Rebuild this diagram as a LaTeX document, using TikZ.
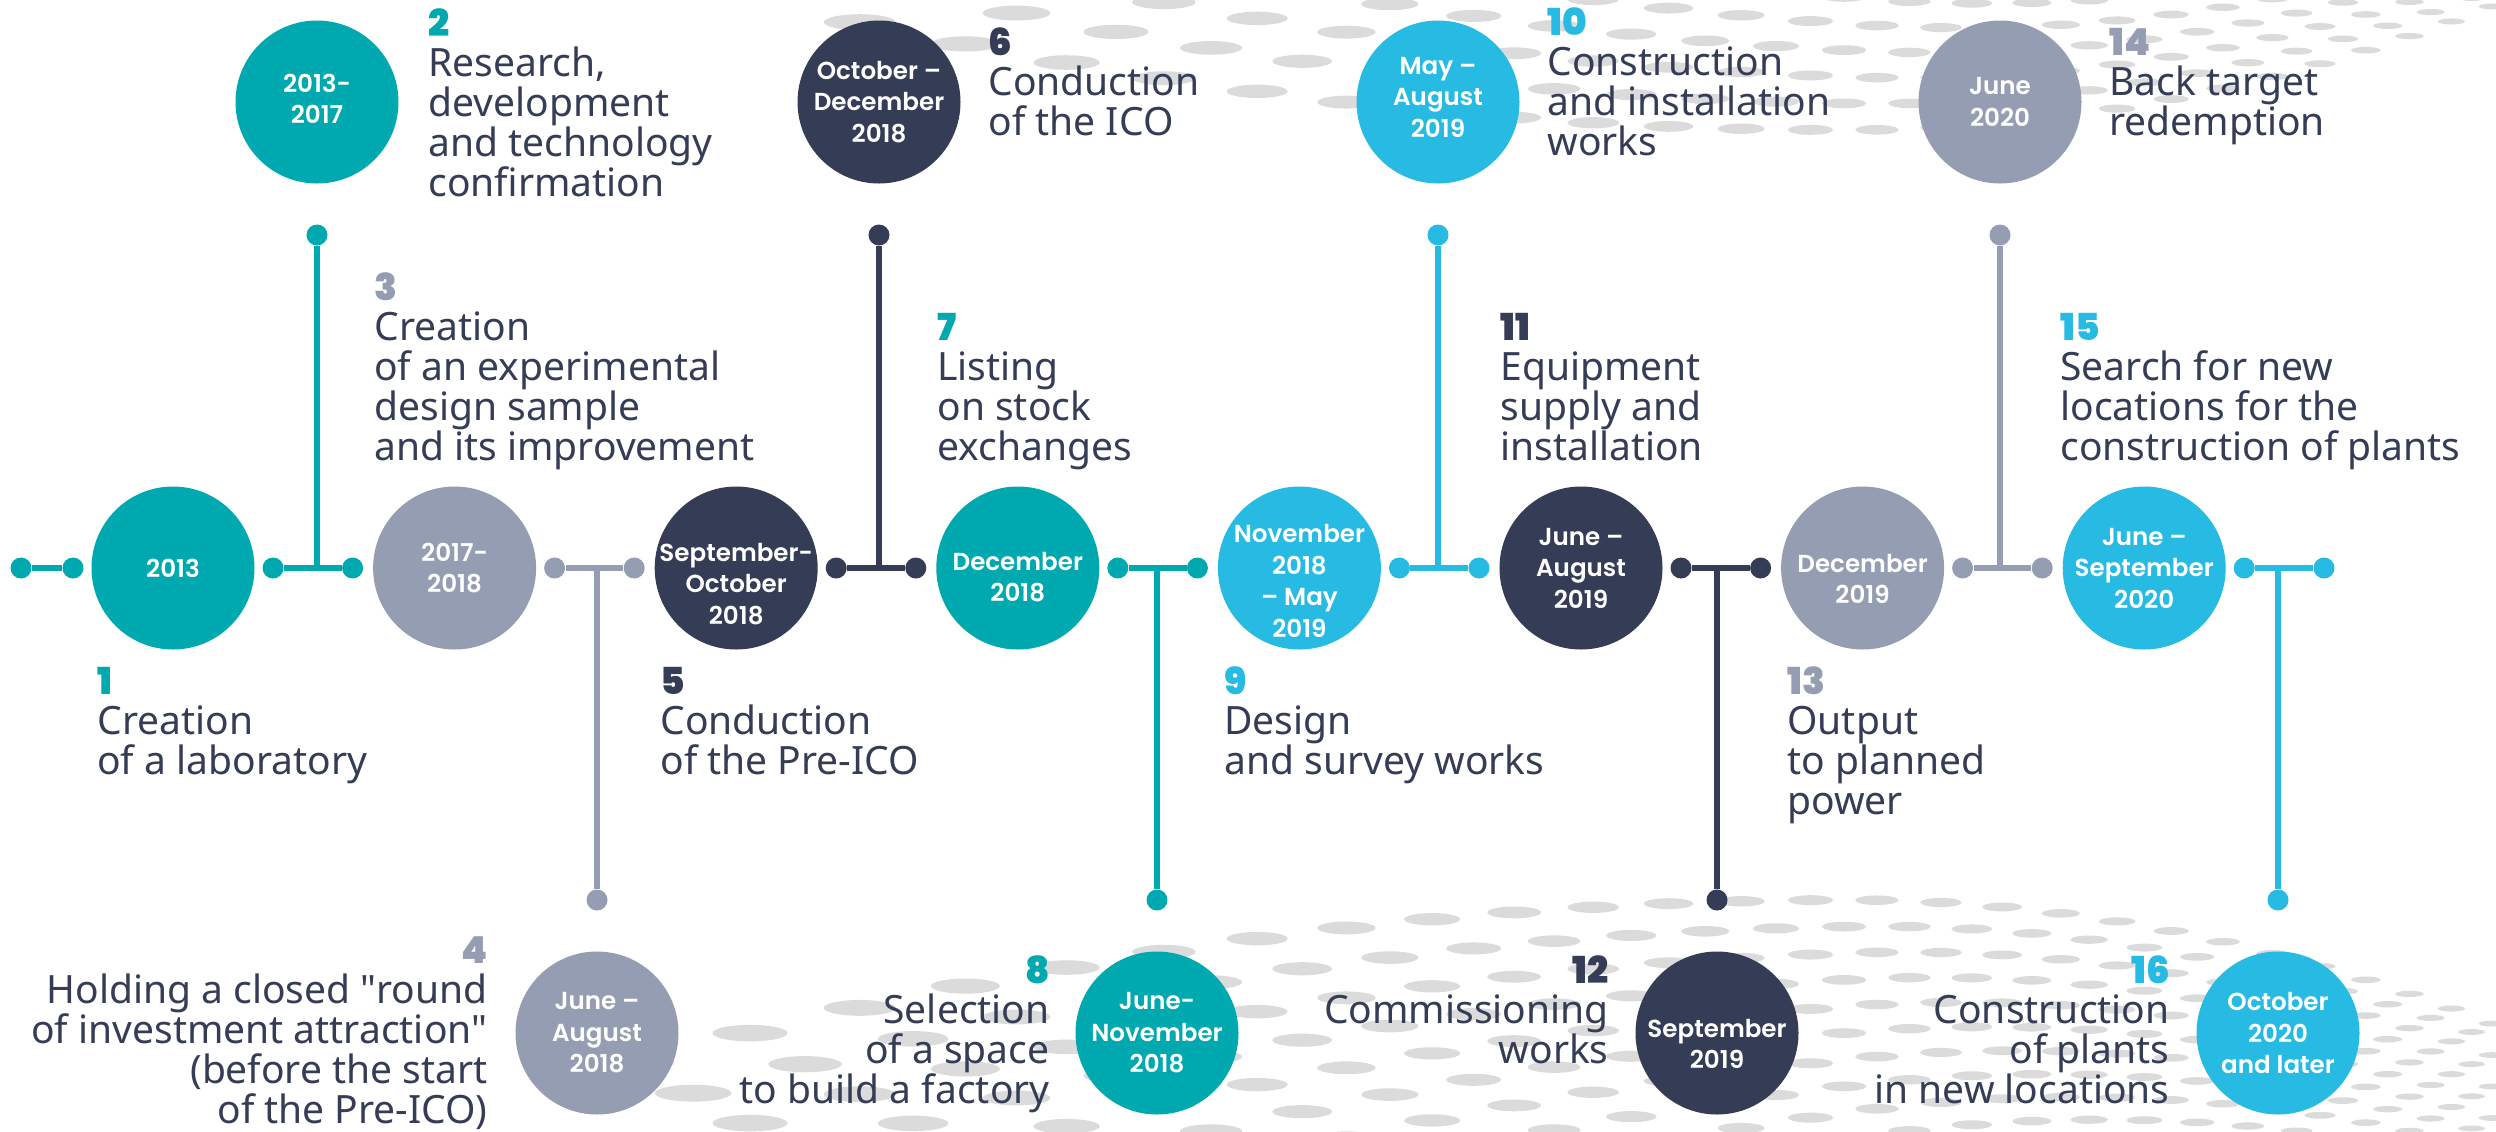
\documentclass[tikz,border=0pt]{standalone}
\usepackage{fontspec}
\setmainfont{Noto Sans}
\IfFontExistsTF{Poppins Black}{\newfontfamily\numfont{Poppins Black}}{\newcommand\numfont{\bfseries}}
\IfFontExistsTF{Noto Sans SemiBold}{\newfontfamily\labelfont{Noto Sans SemiBold}}{%
  \IfFontExistsTF{Noto Sans Bold}{\newfontfamily\labelfont{Noto Sans Bold}}{%
    \IfFontExistsTF{Poppins SemiBold}{\newfontfamily\labelfont{Poppins SemiBold}}{%
      \newfontfamily\labelfont{Noto Sans}[FakeBold=2]}}}
% straight double quote, set as a glyph so no ligature mapping curls it
\newcommand\sq{\XeTeXglyph\XeTeXcharglyph"22\relax}

\definecolor{cteal}{RGB}{0,169,175}
\definecolor{cgray}{RGB}{149,157,178}
\definecolor{cnavy}{RGB}{53,61,86}
\definecolor{cblue}{RGB}{39,186,226}
\definecolor{cdot}{RGB}{219,219,219}

% number on the first row, description lines below, left or right aligned
\newcommand\stackleft[3]{\vtop{\baselineskip=20pt\lineskiplimit=-100pt\lineskip=0pt
  \halign{##\hfil\cr{\numfont\fontsize{18.6}{20}\selectfont\color{#1}#2}\cr#3\crcr}}}
\newcommand\stackright[3]{\vtop{\baselineskip=20pt\lineskiplimit=-100pt\lineskip=0pt
  \halign{\hfil##\cr{\numfont\fontsize{18.6}{20}\selectfont\color{#1}#2}\cr#3\crcr}}}

\tikzset{
  stagecircle/.style={circle, inner sep=0pt, minimum size=81.5pt, fill=#1},
  circlabel/.style={inner sep=0pt, text=white, align=center,
    font=\labelfont\fontsize{12.3}{15.75}\selectfont},
  pip/.style={circle, inner sep=0pt, minimum size=10.5pt, fill=#1},
  link/.style={draw=#1, line width=2.75pt},
  itemtext/.style={inner sep=0pt, text=cnavy, font=\fontsize{19.5}{20}\selectfont},
}

\begin{document}
\begin{tikzpicture}[x=0.5pt,y=-0.5pt]
\useasboundingbox (0,0) rectangle (2496,1131);
\fill[white] (0,0) rectangle (2496,1131);

% dotted backdrop: two mirrored warped grids of flat ellipses
\begin{scope}
\clip (0,0) rectangle (2496,1131);
\foreach \t in {-1,...,26}{
  \foreach \r in {0,...,12}{
    \pgfmathsetmacro\tt{\t+0.5*mod(\r,2)}
    \pgfmathsetmacro\xx{750+2679*(1-exp(-0.042*\tt))}
    \pgfmathsetmacro\ww{75-0.028*(\xx-750)}
    \pgfmathsetmacro\uu{(\xx-1850)/100}
    \pgfmathsetmacro\dd{(\uu<0) ? 1.1*(\uu)*(\uu) : 3*(\uu)*(\uu)}
    \pgfmathsetmacro\yb{900+\dd+\r*0.6*\ww}
    \pgfmathsetmacro\yt{130-\dd-\r*0.6*\ww}
    \fill[cdot] (\xx,\yb) ellipse [x radius=\ww*0.25pt, y radius=\ww*0.055pt];
    \ifdim\xx pt>840pt
      \fill[cdot] (\xx,\yt) ellipse [x radius=\ww*0.25pt, y radius=\ww*0.055pt];
    \fi
  }
}
\end{scope}

% main row of stages
\node[stagecircle=cteal] (c1)  at (173,568) {};
\node[stagecircle=cgray] (c3)  at (454.6,568) {};
\node[stagecircle=cnavy] (c5)  at (736.2,568) {};
\node[stagecircle=cteal] (c7)  at (1017.8,568) {};
\node[stagecircle=cblue] (c9)  at (1299.4,568) {};
\node[stagecircle=cnavy] (c11) at (1581,568) {};
\node[stagecircle=cgray] (c13) at (1862.6,568) {};
\node[stagecircle=cblue] (c15) at (2144.2,568) {};

% branch stages above and below
\node[stagecircle=cteal] (c2)  at (317,102) {};
\node[stagecircle=cgray] (c4)  at (597,1033) {};
\node[stagecircle=cnavy] (c6)  at (879,102) {};
\node[stagecircle=cteal] (c8)  at (1157,1033) {};
\node[stagecircle=cblue] (c10) at (1438,102) {};
\node[stagecircle=cnavy] (c12) at (1717,1033) {};
\node[stagecircle=cgray] (c14) at (2000,102) {};
\node[stagecircle=cblue] (c16) at (2278,1033) {};

% pips on the main line
\node[pip=cteal] (p0a) at (21,568) {};
\node[pip=cteal] (p0b) at (73,568) {};
\node[pip=cteal] (p1a) at (273,568) {};
\node[pip=cteal] (p1b) at (352.6,568) {};
\node[pip=cgray] (p2a) at (554.6,568) {};
\node[pip=cgray] (p2b) at (634.2,568) {};
\node[pip=cnavy] (p3a) at (836.2,568) {};
\node[pip=cnavy] (p3b) at (915.8,568) {};
\node[pip=cteal] (p4a) at (1117.8,568) {};
\node[pip=cteal] (p4b) at (1197.4,568) {};
\node[pip=cblue] (p5a) at (1399.4,568) {};
\node[pip=cblue] (p5b) at (1479,568) {};
\node[pip=cnavy] (p6a) at (1681,568) {};
\node[pip=cnavy] (p6b) at (1760.6,568) {};
\node[pip=cgray] (p7a) at (1962.6,568) {};
\node[pip=cgray] (p7b) at (2042.2,568) {};
\node[pip=cblue] (p8a) at (2244.2,568) {};
\node[pip=cblue] (p8b) at (2324,568) {};

% branch ends and junctions
\node[pip=cteal] (e1) at (317,235) {};
\node[pip=cgray] (e2) at (597,900) {};
\node[pip=cnavy] (e3) at (879,235) {};
\node[pip=cteal] (e4) at (1157,900) {};
\node[pip=cblue] (e5) at (1438,235) {};
\node[pip=cnavy] (e6) at (1717,900) {};
\node[pip=cgray] (e7) at (2000,235) {};
\node[pip=cblue] (e8) at (2278,900) {};
\coordinate (j1) at (317,568);
\coordinate (j2) at (597,568);
\coordinate (j3) at (879,568);
\coordinate (j4) at (1157,568);
\coordinate (j5) at (1438,568);
\coordinate (j6) at (1717,568);
\coordinate (j7) at (2000,568);
\coordinate (j8) at (2278,568);

\draw[link=cteal] (p0a) -- (p0b);
\draw[link=cteal] (p1a) -- (p1b);
\draw[link=cgray] (p2a) -- (p2b);
\draw[link=cnavy] (p3a) -- (p3b);
\draw[link=cteal] (p4a) -- (p4b);
\draw[link=cblue] (p5a) -- (p5b);
\draw[link=cnavy] (p6a) -- (p6b);
\draw[link=cgray] (p7a) -- (p7b);
\draw[link=cblue] (p8a) -- (p8b);
\draw[link=cteal] (j1) -- (e1);
\draw[link=cgray] (j2) -- (e2);
\draw[link=cnavy] (j3) -- (e3);
\draw[link=cteal] (j4) -- (e4);
\draw[link=cblue] (j5) -- (e5);
\draw[link=cnavy] (j6) -- (e6);
\draw[link=cgray] (j7) -- (e7);
\draw[link=cblue] (j8) -- (e8);

% dates inside the circles
\node[circlabel] (l1)  at (c1)  {2013};
\node[circlabel] (l3)  at (c3)  {2017-\\2018};
\node[circlabel] (l5)  at ([yshift=-8pt]c5)  {September-\\October\\2018};
\node[circlabel] (l7)  at ([yshift=-4.5pt]c7)  {December\\2018};
\node[circlabel] (l9)  at ([yshift=-6.5pt]c9)  {November\\2018\\– May\\2019};
\node[circlabel] (l11) at (c11) {June –\\August\\2019};
\node[circlabel] (l13) at ([yshift=-5.5pt]c13) {December\\2019};
\node[circlabel] (l15) at (c15) {June –\\September\\2020};
\node[circlabel] (l2)  at ([yshift=1.5pt]c2)  {2013-\\2017};
\node[circlabel] (l4)  at (c4)  {June –\\August\\2018};
\node[circlabel] (l6)  at (c6)  {October –\\December\\2018};
\node[circlabel] (l8)  at (c8)  {June-\\November\\2018};
\node[circlabel] (l10) at ([yshift=2.5pt]c10) {May –\\August\\2019};
\node[circlabel] (l12) at ([yshift=-5.5pt]c12) {September\\2019};
\node[circlabel] (l14) at (c14) {June\\2020};
\node[circlabel] (l16) at (c16) {October\\2020\\and later};

% descriptions
\node[itemtext, anchor=base west] (n1) at (97,694) {\stackleft{cteal}{1}{Creation\cr of a laboratory}};
\node[itemtext, anchor=base west] (n5) at (660,694) {\stackleft{cnavy}{5}{Conduction\cr of the Pre-ICO}};
\node[itemtext, anchor=base west] (n9) at (1224,694) {\stackleft{cblue}{9}{Design\cr and survey works}};
\node[itemtext, anchor=base west] (n13) at (1787,694) {\stackleft{cgray}{13}{Output\cr to planned\cr power}};

\node[itemtext, anchor=base west] (n3) at (374,300) {\stackleft{cgray}{3}{Creation\cr of an experimental\cr design sample\cr and its improvement}};
\node[itemtext, anchor=base west] (n7) at (937,340) {\stackleft{cteal}{7}{Listing\cr on stock\cr exchanges}};
\node[itemtext, anchor=base west] (n11) at (1500,340) {\stackleft{cnavy}{11}{Equipment\cr supply and\cr installation}};
\node[itemtext, anchor=base west] (n15) at (2060,340) {\stackleft{cblue}{15}{Search for new\cr locations for the\cr construction of plants}};

\node[itemtext, anchor=base west] (n2) at (428,36) {\stackleft{cteal}{2}{Research,\cr development\cr and technology\cr confirmation}};
\node[itemtext, anchor=base west] (n6) at (988,55) {\stackleft{cnavy}{6}{Conduction\cr of the ICO}};
\node[itemtext, anchor=base west] (n10) at (1547,35) {\stackleft{cblue}{10}{Construction\cr and installation\cr works}};
\node[itemtext, anchor=base west] (n14) at (2109,55) {\stackleft{cgray}{14}{Back target\cr redemption}};

\node[itemtext, anchor=base east] (n4) at (488,963) {\stackright{cgray}{4}{Holding a closed \sq round\cr of investment attraction\sq\cr (before the start\cr of the Pre-ICO)}};
\node[itemtext, anchor=base east] (n8) at (1050,983) {\stackright{cteal}{8}{Selection\cr of a space\cr to build a factory}};
\node[itemtext, anchor=base east] (n12) at (1609,983) {\stackright{cnavy}{12}{Commissioning\cr works}};
\node[itemtext, anchor=base east] (n16) at (2170,983) {\stackright{cblue}{16}{Construction\cr of plants\cr in new locations}};
\end{tikzpicture}
\end{document}
